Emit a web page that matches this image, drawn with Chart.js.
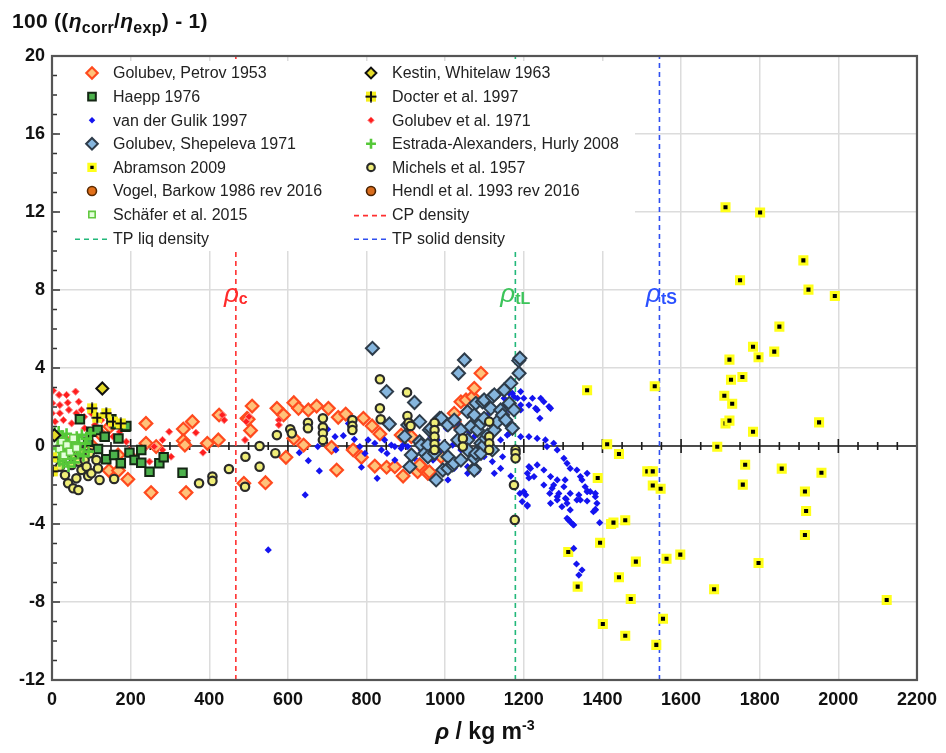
<!DOCTYPE html>
<html>
<head>
<meta charset="utf-8">
<script src="https://cdn.jsdelivr.net/npm/chart.js@4.4.0/dist/chart.umd.min.js"></script>
<style>
  html, body { margin: 0; padding: 0; background: #fff; }
  #wrap { position: relative; width: 946px; height: 753px; overflow: hidden; }
  #c { position: absolute; left: 0; top: 0; }
  .ttl { position: absolute; font-family: "Liberation Sans", Arial, sans-serif; font-weight: bold; color: #111; white-space: nowrap; line-height: 1.15; }
  .ttl sub { font-size: 0.76em; vertical-align: -0.3em; line-height: 0; }
  .ttl sup { font-size: 0.62em; vertical-align: 0.62em; line-height: 0; }
</style>
</head>
<body>
<div id="wrap">
  <canvas id="c" width="946" height="753"></canvas>
  <div class="ttl" style="left:12px; top:9px; font-size:21px; letter-spacing:0.3px;">100 ((<i>η</i><sub>corr</sub>/<i>η</i><sub>exp</sub>) - 1)</div>
  <div class="ttl" style="left:335px; width:300px; text-align:center; top:718px; font-size:23px;"><i>ρ</i> / kg m<sup>-3</sup></div>
</div>
<script>
// ---- axis ranges and ticks ----
const xRange = [0, 2200];
const yRange = [-12, 20];
const xTickStep = 200;
const yTickStep = 4;

// ---- reference densities (kg/m3) ----
const cpDensity = 467.6;
const tpLiqDensity = 1178.5;
const tpSolidDensity = 1545;

// ---- deviation data: [density, 100*(eta_corr/eta_exp - 1)] ----
const golubevPetrov1953 = [
  [100,0.05],[121,0.65],[147,0.99],[145,-1.26],[169,-1.26],[168,-0.46],[193,-1.71],[239,1.16],[239,0.14],
  [252,-2.39],[265,-0.03],[334,0.87],[334,0.27],[338,0.05],[341,-2.39],[357,1.25],[395,0.14],[423,0.31],
  [425,1.59],[488,-1.91],[496,1.42],[499,1.37],[505,0.79],[509,2.05],[543,-1.88],[572,1.93],[589,1.59],
  [595,-0.58],[615,2.22],[615,0.39],[627,1.93],[640,0.05],[652,1.85],[673,2.05],[703,1.93],[711,-0.07],
  [724,-1.23],[728,1.47],[747,1.64],[766,-0.2],[787,-0.58],[792,1.42],[814,1.03],[821,-1.03],[834,0.62],
  [851,-1.09],[872,-1.06],[888,0.56],[893,-1.54],[914,0.48],[930,-1.32],[939,-1.06],[935,-0.97],[956,-1.40],
  [960,-1.32],[990,-0.55],[1023,1.68],[1023,1.25],[1040,2.27],[1053,2.36],[1070,2.53],[1074,2.96],[1091,3.73]
];
const haepp1976 = [
  [71,1.37],[92,0.22],[100,0.73],[116,0.82],[117,-0.15],[134,0.48],[138,-0.68],[151,1.37],[158,-0.46],
  [162,1.11],[169,0.39],[175,-0.89],[187,0.99],[189,1.03],[197,-0.34],[210,-0.72],[227,-0.86],[227,-0.2],
  [248,-1.32],[273,-0.89],[284,-0.58],[332,-1.37]
];
const vanDerGulik1997 = [
  [550,-5.33],[629,-0.34],[644,-2.51],[652,-0.75],[676,-0.03],[680,-1.28],[701,0.86],[720,0.48],[722,-0.2],
  [741,0.53],[754,1.16],[769,0.34],[783,-0.03],[787,-1.09],[796,-0.38],[804,0.31],[821,0.14],[827,-1.66],
  [838,-0.2],[846,0.31],[852,-0.38],[863,0.05],[872,-0.72],[872,-0.03],[888,-0.12],[893,0.05],[905,-0.03],
  [922,-0.63],[939,-0.2],[956,-0.46],[964,0.48],[969,-0.72],[973,-0.63],[980,0.31],[990,-0.2],[1003,0.9],
  [1007,-1.74],[1019,0.05],[1023,-1.15],[1030,1.2],[1040,-0.2],[1040,-0.8],[1057,-1.06],[1057,-1.4],
  [1062,0.7],[1074,0.48],[1082,-1.32],[1088,1.0],[1099,-0.55],[1103,0.31],[1112,1.68],[1120,0.65],
  [1120,-0.8],[1125,-1.4],[1133,1.42],[1135,2.62],[1141,0.31],[1141,-1.15],[1146,-0.55],[1150,2.02],
  [1150,2.45],[1158,0.56],[1163,1.85],[1163,0.65],[1163,2.7],[1167,-1.54],[1171,2.7],[1175,2.53],
  [1175,-2.09],[1184,2.45],[1190,-2.43],[1192,1.85],[1192,2.1],[1192,2.79],[1192,0.48],[1196,-2.85],
  [1200,2.45],[1200,-2.34],[1205,-2.51],[1209,-3.03],[1209,-3.08],[1209,-1.4],[1213,2.1],[1213,0.48],
  [1213,-1.06],[1213,-1.64],[1217,-1.15],[1222,2.45],[1226,-1.57],[1230,1.93],[1234,1.85],[1234,0.39],
  [1234,-0.97],[1241,1.42],[1243,2.45],[1251,2.27],[1251,-1.23],[1251,-2.0],[1255,0.31],[1259,-0.03],
  [1264,2.02],[1266,-2.43],[1268,1.93],[1268,-1.57],[1268,-2.94],[1272,-2.17],[1276,0.14],[1276,-2.0],
  [1285,-0.2],[1285,-1.74],[1285,-2.77],[1285,-2.6],[1289,-2.43],[1297,-3.11],[1302,-0.63],[1302,-2.09],
  [1305,-1.74],[1306,-2.68],[1308,-2.73],[1310,-0.89],[1310,-2.94],[1310,-3.71],[1314,-3.79],[1318,-1.15],
  [1318,-2.43],[1318,-3.28],[1318,-3.88],[1325,-4.02],[1327,-4.05],[1327,-5.25],[1334,-6.05],[1335,-1.23],
  [1335,-2.77],[1340,-2.51],[1340,-6.62],[1344,-1.57],[1344,-2.77],[1348,-1.74],[1348,-6.36],[1356,-2.09],
  [1361,-1.4],[1361,-2.34],[1361,-2.82],[1362,-2.31],[1369,-2.34],[1377,-3.37],[1382,-2.6],[1382,-2.43],
  [1382,-3.28],[1382,-3.25],[1386,-2.94],[1393,-3.93]
];
const golubevShepeleva1971 = [
  [815,5.01],[851,2.79],[858,1.13],[897,0.48],[905,1.08],[910,-1.06],[914,-0.46],[922,2.23],[935,1.25],
  [935,0.22],[939,0.05],[948,-0.37],[956,0.05],[956,-0.55],[960,0.82],[964,0.91],[973,-0.37],[977,-1.74],
  [986,1.42],[990,1.42],[994,-1.23],[998,-0.03],[1007,1.08],[1007,-0.55],[1007,-1.15],[1019,-0.97],
  [1023,1.33],[1023,-0.89],[1032,0.31],[1034,3.73],[1040,0.82],[1040,-0.72],[1049,4.41],[1057,1.76],
  [1057,0.31],[1057,-0.2],[1065,0.99],[1074,1.59],[1074,-1.15],[1074,-1.23],[1074,-0.63],[1078,2.19],
  [1078,-0.37],[1082,0.82],[1091,0.14],[1091,1.16],[1091,-0.37],[1095,2.27],[1099,2.36],[1099,1.42],
  [1099,0.05],[1103,0.39],[1108,0.56],[1116,1.93],[1120,2.53],[1120,-0.2],[1125,2.62],[1125,0.82],
  [1133,1.25],[1141,1.85],[1146,1.59],[1150,2.87],[1154,1.33],[1163,2.19],[1167,3.22],[1171,0.91],
  [1175,1.85],[1187,4.38],[1188,3.73],[1190,4.5]
];
const abramson2009 = [
  [1313,-5.44],[1337,-7.21],[1361,2.86],[1388,-1.64],[1394,-4.96],[1401,-9.13],[1412,0.09],[1422,-4.0],
  [1428,-3.93],[1442,-0.41],[1442,-6.73],[1458,-3.81],[1458,-9.73],[1472,-7.85],[1485,-5.93],[1514,-1.3],
  [1528,-1.3],[1528,-2.03],[1533,3.06],[1537,-10.2],[1548,-2.19],[1554,-8.86],[1563,-5.78],[1598,-5.57],
  [1684,-7.35],[1692,-0.04],[1710,2.58],[1713,12.24],[1713,1.16],[1723,4.43],[1723,1.3],[1727,3.4],
  [1730,2.17],[1750,8.5],[1756,3.54],[1757,-1.98],[1763,-0.96],[1783,5.09],[1783,0.73],[1797,4.55],
  [1797,-6.0],[1801,11.97],[1837,4.84],[1850,6.12],[1856,-1.16],[1911,9.52],[1915,-2.33],[1915,-4.56],
  [1918,-3.33],[1924,8.02],[1951,1.21],[1957,-1.37],[1991,7.69],[2123,-7.9]
];
const vogelBarkow1986 = [[3,0.35],[6,-0.15],[10,0.18],[14,-0.42],[19,0.05]];
const schaefer2015 = [[4,0.12],[8,-0.36],[14,0.48],[19,-0.15],[25,0.22],[31,-0.48],[38,0.05],[46,-0.3],[54,0.4],[62,-0.1]];
const kestinWhitelaw1963 = [[6,0.55],[128,2.95]];
const docter1997 = [[0,-0.58],[2,-1.3],[102,1.93],[115,1.45],[138,1.68],[155,1.25],[175,1.16]];
const golubev1971 = [
  [0,1.68],[1,2.19],[3,2.84],[8,1.25],[12,0.31],[18,2.62],[20,2.1],[20,1.68],[29,1.33],[37,2.62],[37,0.39],
  [40,2.22],[43,1.85],[50,1.16],[60,2.79],[62,1.68],[68,2.27],[75,1.85],[82,1.5],[83,0.91],[100,1.68],
  [109,1.08],[126,1.33],[130,0.56],[147,1.08],[155,0.48],[172,0.73],[189,0.22],[197,-0.2],[210,-0.55],
  [231,-0.2],[235,-0.12],[248,-0.8],[260,-0.03],[281,-0.2],[281,0.31],[298,0.73],[303,-0.55],[366,0.68],
  [384,-0.34],[433,1.59],[438,1.33],[491,0.31],[494,1.25],[501,1.5],[577,1.33],[577,1.08]
];
const estradaHurly2008 = [
  [3,0.42],[5,-0.25],[7,0.68],[9,0.05],[11,-0.55],[13,0.31],[15,-0.12],[17,0.74],[19,-0.78],[21,0.18],
  [24,-0.35],[26,0.52],[28,-0.92],[30,-0.04],[33,0.27],[35,-0.61],[37,0.63],[40,-0.22],[42,-1.05],[44,0.09],
  [47,0.36],[49,-0.66],[52,-0.14],[55,0.24],[57,-0.84],[60,0.02],[63,0.47],[66,-0.41],[69,0.15],[72,-0.18],
  [76,0.58],[80,-0.52],[84,0.12],[88,0.38],[93,-0.29],[98,0.66]
];
const michels1957 = [
  [8,-0.03],[16,-0.17],[20,-1.06],[25,-0.72],[33,-1.49],[35,-0.4],[41,-1.91],[45,-0.1],[50,-0.97],[54,-2.17],
  [58,-0.55],[62,-1.66],[67,-2.26],[67,-0.8],[67,-0.34],[75,-1.23],[75,-0.29],[83,-0.72],[88,-1.06],
  [92,-1.54],[96,-0.37],[100,-1.4],[113,-0.72],[117,-1.15],[121,-1.74],[158,-1.69],[374,-1.91],[408,-1.57],
  [408,-1.79],[450,-1.18],[491,-2.09],[492,-0.55],[528,0],[528,-1.06],[568,-0.37],[572,0.56],[606,0.86],
  [610,0.65],[651,1.19],[651,0.91],[689,1.42],[689,0.96],[689,0.65],[689,0.31],[764,1.33],[764,1.03],
  [764,0.82],[834,3.42],[834,1.93],[836,1.37],[903,2.75],[904,1.54],[907,1.19],[912,1.03],[973,1.19],
  [973,0.82],[973,0.48],[973,0.1],[973,-0.2],[1045,0.39],[1045,-0.03],[1112,1.25],[1112,0.48],[1112,0.14],
  [1112,-0.2],[1175,-2.0],[1177,-3.79],[1179,-0.2],[1179,-0.37],[1179,-0.63]
];
const hendl1993 = [[2,-0.28],[5,0.08],[8,0.52],[12,-0.08],[16,0.28]];

// legend layout: two columns, filled row by row
const legendLeft = ['Golubev, Petrov 1953','Haepp 1976','van der Gulik 1997','Golubev, Shepeleva 1971',
  'Abramson 2009','Vogel, Barkow 1986 rev 2016','Schäfer et al. 2015','TP liq density'];
const legendRight = ['Kestin, Whitelaw 1963','Docter et al. 1997','Golubev et al. 1971',
  'Estrada-Alexanders, Hurly 2008','Michels et al. 1957','Hendl et al. 1993 rev 2016','CP density','TP solid density'];

const FONT = '"Liberation Sans", Arial, Helvetica, sans-serif';
const pts = arr => arr.map(([x, y]) => ({ x, y }));
const vline = v => [{ x: v, y: yRange[0] }, { x: v, y: yRange[1] }];

// yellow square with a black plus, used as a point marker
function plusBox() {
  const c = document.createElement('canvas');
  c.width = 12; c.height = 12;
  const g = c.getContext('2d');
  g.fillStyle = '#f5ee1e';
  g.fillRect(1, 1, 10, 10);
  g.strokeStyle = '#111';
  g.lineWidth = 2;
  g.beginPath();
  g.moveTo(6, 0.5); g.lineTo(6, 11.5);
  g.moveTo(0.5, 6); g.lineTo(11.5, 6);
  g.stroke();
  return c;
}

function series(label, data, style, order) {
  return Object.assign({ label, data: pts(data), order, showLine: false, pointHoverRadius: 0 }, style);
}
function dashed(label, value, color) {
  return { label, data: vline(value), showLine: true, pointRadius: 0, borderColor: color,
    borderWidth: 1.6, borderDash: [5, 4], order: 30, fill: false };
}

const datasets = [
  series('Michels et al. 1957', michels1957, { pointStyle: 'circle', pointRadius: 4.2, backgroundColor: '#f0ee78', borderColor: '#2a2a2a', borderWidth: 2.2 }, 3),
  series('Kestin, Whitelaw 1963', kestinWhitelaw1963, { pointStyle: 'rectRot', pointRadius: 6, backgroundColor: '#e6dc2a', borderColor: '#111', borderWidth: 2 }, 2),
  series('Docter et al. 1997', docter1997, { pointStyle: plusBox(), pointRadius: 6, backgroundColor: '#f5ee1e', borderColor: '#111', borderWidth: 0 }, 1),
  series('Haepp 1976', haepp1976, { pointStyle: 'rect', pointRadius: 6, backgroundColor: '#4cb24c', borderColor: '#142614', borderWidth: 2 }, 4),
  series('Golubev, Shepeleva 1971', golubevShepeleva1971, { pointStyle: 'rectRot', pointRadius: 6.5, backgroundColor: '#86b6de', borderColor: '#2e3c4a', borderWidth: 2 }, 5),
  series('van der Gulik 1997', vanDerGulik1997, { pointStyle: 'rectRot', pointRadius: 3.6, backgroundColor: '#1414f0', borderColor: '#1414f0', borderWidth: 0 }, 6),
  series('Golubev et al. 1971', golubev1971, { pointStyle: 'rectRot', pointRadius: 3.6, backgroundColor: '#ff1e1e', borderColor: '#ff8080', borderWidth: 1 }, 7),
  series('Golubev, Petrov 1953', golubevPetrov1953, { pointStyle: 'rectRot', pointRadius: 6.3, backgroundColor: '#ffc27a', borderColor: '#ff4a1e', borderWidth: 2.2 }, 8),
  series('Estrada-Alexanders, Hurly 2008', estradaHurly2008, { pointStyle: 'cross', pointRadius: 5.5, backgroundColor: '#55c838', borderColor: '#55c838', borderWidth: 2.6 }, 2.5),
  series('Schäfer et al. 2015', schaefer2015, { pointStyle: 'rect', pointRadius: 5, backgroundColor: '#e4ffdc', borderColor: '#62c840', borderWidth: 1.6 }, 2.4),
  series('Vogel, Barkow 1986 rev 2016', vogelBarkow1986, { pointStyle: 'circle', pointRadius: 5, backgroundColor: '#e2701a', borderColor: '#5a2a00', borderWidth: 1.6 }, 2.6),
  series('Hendl et al. 1993 rev 2016', hendl1993, { pointStyle: 'circle', pointRadius: 5, backgroundColor: '#d86c1e', borderColor: '#4a2200', borderWidth: 1.6 }, 2.7),
  series('Abramson 2009', abramson2009, { pointStyle: 'rect', pointRadius: 5, backgroundColor: '#000', borderColor: '#ffff1a', borderWidth: 3 }, 13),
  dashed('CP density', cpDensity, '#ff3030'),
  dashed('TP liq density', tpLiqDensity, '#22b87a'),
  dashed('TP solid density', tpSolidDensity, '#2f4ff0')
];

function drawRho(ctx, px, baseY, sub, color) {
  ctx.save();
  ctx.fillStyle = color;
  ctx.textBaseline = 'alphabetic';
  ctx.textAlign = 'left';
  ctx.font = 'italic 26px ' + FONT;
  const w1 = ctx.measureText('ρ').width;
  ctx.font = 'bold 16px ' + FONT;
  const w2 = ctx.measureText(sub).width;
  const x0 = px - (w1 + w2) / 2;
  ctx.font = 'italic 26px ' + FONT;
  ctx.fillText('ρ', x0, baseY);
  ctx.font = 'bold 16px ' + FONT;
  ctx.fillText(sub, x0 + w1, baseY + 2);
  ctx.restore();
}

const decor = {
  id: 'decor',
  beforeDatasetsDraw(chart) {
    const { ctx, chartArea: a, scales: { x, y } } = chart;
    const y0 = y.getPixelForValue(0);
    ctx.save();
    ctx.strokeStyle = '#1a1a1a';
    ctx.lineWidth = 1.6;
    ctx.beginPath();
    ctx.moveTo(a.left, y0); ctx.lineTo(a.right, y0);
    for (let v = xRange[0]; v <= xRange[1]; v += 50) {
      const px = x.getPixelForValue(v);
      const h = v % xTickStep === 0 ? 7 : 4;
      ctx.moveTo(px, y0 - h); ctx.lineTo(px, y0 + h);
    }
    ctx.stroke();
    ctx.restore();
  },
  afterDatasetsDraw(chart) {
    const { ctx, scales: { x, y } } = chart;
    // legend panel
    ctx.save();
    ctx.fillStyle = '#fff';
    ctx.fillRect(57, 61, 578, 190);
    const rowY = i => 73 + i * 23.6;
    const drawEntry = (label, mx, tx, row) => {
      const ds = chart.data.datasets.find(d => d.label === label);
      const cy = rowY(row);
      if (ds.showLine) {
        ctx.save();
        ctx.strokeStyle = ds.borderColor;
        ctx.lineWidth = 1.6;
        ctx.setLineDash([5, 4]);
        ctx.beginPath();
        ctx.moveTo(mx - 17, cy + 1); ctx.lineTo(tx - 3, cy + 1);
        ctx.stroke();
        ctx.restore();
      } else {
        ctx.save();
        ctx.fillStyle = ds.backgroundColor;
        ctx.strokeStyle = ds.borderColor;
        ctx.lineWidth = ds.borderWidth;
        Chart.helpers.drawPoint(ctx, {
          pointStyle: ds.pointStyle, rotation: 0,
          radius: ds.pointRadius * 0.9, borderWidth: ds.borderWidth
        }, mx, cy);
        ctx.restore();
      }
      ctx.fillStyle = '#222';
      ctx.font = '16px ' + FONT;
      ctx.textBaseline = 'middle';
      ctx.textAlign = 'left';
      ctx.fillText(label, tx, cy + 1);
    };
    legendLeft.forEach((l, i) => drawEntry(l, 92, 113, i));
    legendRight.forEach((l, i) => drawEntry(l, 371, 392, i));
    ctx.restore();

    // labels of the reference densities
    const by = y.getPixelForValue(7.4);
    drawRho(ctx, x.getPixelForValue(cpDensity), by, 'c', '#ff2a2a');
    drawRho(ctx, x.getPixelForValue(tpLiqDensity), by, 'tL', '#3cc45a');
    drawRho(ctx, x.getPixelForValue(tpSolidDensity) + 2, by, 'tS', '#2a50ff');
  },
  afterDraw(chart) {
    const { ctx, chartArea: a, scales: { y } } = chart;
    ctx.save();
    // small ticks along the left axis
    ctx.strokeStyle = '#333';
    ctx.lineWidth = 1.4;
    ctx.beginPath();
    for (let v = yRange[0]; v <= yRange[1]; v += 1) {
      const py = y.getPixelForValue(v);
      const len = v % yTickStep === 0 ? 8 : 5;
      ctx.moveTo(a.left, py); ctx.lineTo(a.left + len, py);
    }
    ctx.stroke();
    // frame
    ctx.strokeStyle = '#555';
    ctx.lineWidth = 2.2;
    ctx.strokeRect(a.left, a.top, a.right - a.left, a.bottom - a.top);
    ctx.restore();
  }
};

new Chart(document.getElementById('c'), {
  type: 'scatter',
  data: { datasets },
  plugins: [decor],
  options: {
    responsive: false,
    animation: false,
    devicePixelRatio: 1,
    layout: { padding: { top: 56, right: 24, left: 0, bottom: 0 } },
    plugins: { legend: { display: false }, title: { display: false }, tooltip: { enabled: false } },
    scales: {
      x: {
        type: 'linear', min: xRange[0], max: xRange[1],
        ticks: { stepSize: xTickStep, color: '#111', padding: 9, maxRotation: 0,
          font: { family: FONT, size: 18, weight: 'bold' }, callback: v => String(v) },
        grid: { color: '#dcdcdc', lineWidth: 1.5, drawTicks: false },
        border: { display: false },
        afterFit(s) { s.height = 73; }
      },
      y: {
        type: 'linear', min: yRange[0], max: yRange[1],
        ticks: { stepSize: yTickStep, color: '#111', padding: 7,
          font: { family: FONT, size: 18, weight: 'bold' }, callback: v => String(v) },
        grid: { color: '#dcdcdc', lineWidth: 1.5, drawTicks: false },
        border: { display: false },
        afterFit(s) { s.width = 52; }
      }
    }
  }
});
</script>
</body>
</html>
